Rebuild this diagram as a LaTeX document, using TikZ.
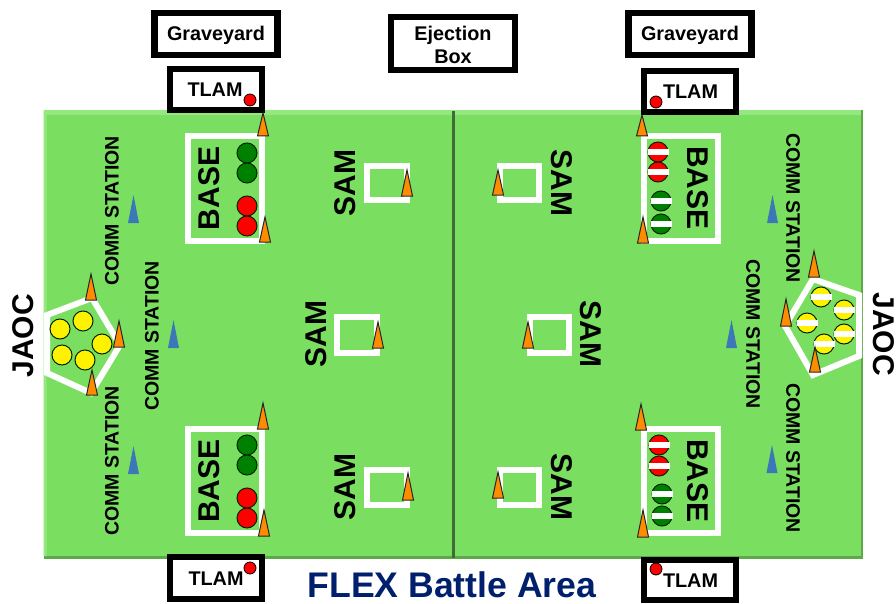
\documentclass[tikz,border=0pt]{standalone}
\usepackage{fontspec}
\setmainfont{Liberation Sans}
\definecolor{field}{HTML}{7ADF60}
\definecolor{fieldlight}{HTML}{95E87F}
\definecolor{fielddark}{HTML}{5FA84A}
\definecolor{divide}{HTML}{3F6B35}
\definecolor{cone}{HTML}{FF8C00}
\definecolor{bluetri}{HTML}{3C78B8}
\definecolor{navytxt}{HTML}{00206E}
\definecolor{dgreen}{HTML}{008000}
\definecolor{yel}{HTML}{FFF200}
\tikzset{
  framebox/.style={draw=black,line width=6.4pt,fill=white,inner sep=0pt,align=center,font=\bfseries\fontsize{19.8}{23}\selectfont,text=black,text depth=0pt},
  conetri/.style={draw=black!85,line width=1pt,fill=cone,line join=miter},
  bluetriangle/.style={fill=bluetri},
  whiteline/.style={draw=white,line width=6pt,line join=miter},
  dot/.style={draw=black!85!green,line width=1pt},
  bigtxt/.style={font=\bfseries\fontsize{30}{30}\selectfont,inner sep=0pt},
  commtxt/.style={font=\bfseries\fontsize{19.5}{20}\selectfont,inner sep=0pt},
  plain/.style={font=\bfseries\fontsize{19.8}{23}\selectfont,align=center,inner sep=0pt},
}
\newcommand{\conemark}[3]{\draw[conetri] ({#1-5.5},#2) -- (#1,#3) -- ({#1+5.5},#2) -- cycle;}
\newcommand{\bluemark}[2]{\fill[bluetriangle] ({#1-5.5},{#2+14}) -- (#1,{#2-14}) -- ({#1+5.5},{#2+14}) -- cycle;}
\newcommand{\disc}[3]{\filldraw[dot,fill=#3] (#1,#2) circle[radius=10];}
\newcommand{\stripdisc}[3]{\filldraw[dot,fill=#3] (#1,#2) circle[radius=10];\fill[white] ({#1-10.5},{#2-2.6}) rectangle ({#1+10.5},{#2+2.6});}
\newcommand{\tlamdot}[2]{\filldraw[draw=black,line width=0.8pt,fill=red] (#1,#2) circle[radius=6];}
\begin{document}
\begin{tikzpicture}[x=1pt,y=-1pt]
\useasboundingbox (0,0) rectangle (896,604);
\fill[white] (0,0) rectangle (896,604);
% fields
\fill[fielddark] (43.5,110.5) rectangle (863,559);
\fill[field] (43.5,110.5) rectangle (861,556);
\fill[fieldlight] (43.5,110.5) rectangle (861,115);
\fill[fieldlight] (43.5,110.5) -- (46.5,115) -- (46.5,556) -- (43.5,556) -- cycle;
\fill[divide] (452,111) rectangle (455,558);
% graveyard etc
\node[framebox,minimum width=123pt,minimum height=41.5pt,text height=14pt] (gyl) at (216,34) {Graveyard};
\node[framebox,minimum width=123pt,minimum height=41.5pt,text height=14pt] (gyr) at (690,34) {Graveyard};
\node[framebox,minimum width=124pt,minimum height=52.5pt] (ej) at (453,43.5) {};
\node[plain] (ejt) at (453,45) {Ejection\\Box};
\node[framebox,minimum width=91.5pt,minimum height=41pt,text height=15pt] (tlam1) at (216,89.5) {\hspace*{-2pt}TLAM};
\node[framebox,minimum width=91.5pt,minimum height=41pt,text height=14pt] (tlam2) at (690,91.5) {\hspace*{1pt}TLAM};
\node[framebox,minimum width=91.5pt,minimum height=41.5pt,text height=14pt] (tlam3) at (216,578) {\hspace*{0pt}TLAM};
\node[framebox,minimum width=91.5pt,minimum height=40pt,text height=14pt] (tlam4) at (690,580) {\hspace*{1pt}TLAM};
\tlamdot{250}{100}\tlamdot{656}{102}\tlamdot{250}{568}\tlamdot{656}{569}
% base squares
\draw[whiteline] (188,136) rectangle (262,241);
\draw[whiteline] (188,429) rectangle (262,533);
\draw[whiteline] (644,136) rectangle (718,241);
\draw[whiteline] (644,429) rectangle (718,533);
% sam squares
\draw[whiteline] (366.5,166) rectangle (406.5,200);
\draw[whiteline] (337,317) rectangle (377,353);
\draw[whiteline] (366.5,470) rectangle (406.5,505);
\draw[whiteline] (500,166) rectangle (539,200);
\draw[whiteline] (529.5,317) rectangle (569,353);
\draw[whiteline] (500,470) rectangle (539,505);
% pentagons
\draw[whiteline] (47,315) -- (92,298) -- (120,345) -- (91,393) -- (47,373) -- cycle;
\draw[whiteline] (859,295) -- (813,279) -- (785,326) -- (813,375) -- (859,356) -- cycle;
% discs
\disc{247}{153}{dgreen}\disc{247}{173}{dgreen}\disc{247}{206}{red}\disc{247}{226}{red}
\disc{247}{445}{dgreen}\disc{247}{465}{dgreen}\disc{247}{498}{red}\disc{247}{518}{red}
\stripdisc{658}{152}{red}\stripdisc{658}{172}{red}\stripdisc{661}{201}{dgreen}\stripdisc{661}{224}{dgreen}
\stripdisc{659}{445}{red}\stripdisc{659}{466}{red}\stripdisc{662}{494}{dgreen}\stripdisc{662}{516}{dgreen}
\disc{60}{329}{yel}\disc{83}{321}{yel}\disc{102}{344}{yel}\disc{85}{360}{yel}\disc{62}{355}{yel}
\stripdisc{821}{297}{yel}\stripdisc{844}{310}{yel}\stripdisc{844}{334}{yel}\stripdisc{807}{323}{yel}\stripdisc{824}{344}{yel}
% cones
\conemark{263}{136}{113}\conemark{265}{242}{217}
\conemark{263}{429}{403}\conemark{264}{536}{510}
\conemark{407}{196}{170}\conemark{378}{348}{322}\conemark{408}{500}{473}
\conemark{91}{300}{274}\conemark{119}{347}{321}\conemark{92}{395}{370}
\conemark{642}{136}{115}\conemark{643}{243}{217}
\conemark{641}{430}{404}\conemark{643}{537}{510}
\conemark{498}{195}{170}\conemark{528}{348}{322}\conemark{498}{498}{472}
\conemark{814}{277}{251}\conemark{786}{326}{299}\conemark{815}{372}{347}
% blue
\bluemark{133.5}{209}\bluemark{173.5}{334}\bluemark{133.5}{460}
\bluemark{772.5}{209}\bluemark{731.5}{334}\bluemark{772}{459}
% text
\node[bigtxt,rotate=90] (b1) at (209.5,188.5) {BASE};
\node[bigtxt,rotate=90] (b2) at (209.5,481) {BASE};
\node[bigtxt,rotate=-90] (b3) at (698,188) {BASE};
\node[bigtxt,rotate=-90] (b4) at (698,481) {BASE};
\node[bigtxt,rotate=90] (s1) at (345,183) {SAM};
\node[bigtxt,rotate=90] (s2) at (316,334) {SAM};
\node[bigtxt,rotate=90] (s3) at (345,487) {SAM};
\node[bigtxt,rotate=-90] (s4) at (562,183) {SAM};
\node[bigtxt,rotate=-90] (s5) at (591,334) {SAM};
\node[bigtxt,rotate=-90] (s6) at (562,487) {SAM};
\node[bigtxt,rotate=90] (j1) at (23,336) {JAOC};
\node[bigtxt,rotate=-90] (j2) at (884,334) {JAOC};
\node[commtxt,rotate=90] (c1) at (112,211) {COMM STATION};
\node[commtxt,rotate=90] (c2) at (152,336) {COMM STATION};
\node[commtxt,rotate=90] (c3) at (112,461) {COMM STATION};
\node[commtxt,rotate=-90] (c4) at (793,208) {COMM STATION};
\node[commtxt,rotate=-90] (c5) at (753,334) {COMM STATION};
\node[commtxt,rotate=-90] (c6) at (793,458) {COMM STATION};
\node[font=\bfseries\fontsize{35.6}{36}\selectfont,text=navytxt,inner sep=0pt] (title) at (452,585) {FLEX Battle Area};
\end{tikzpicture}
\end{document}
